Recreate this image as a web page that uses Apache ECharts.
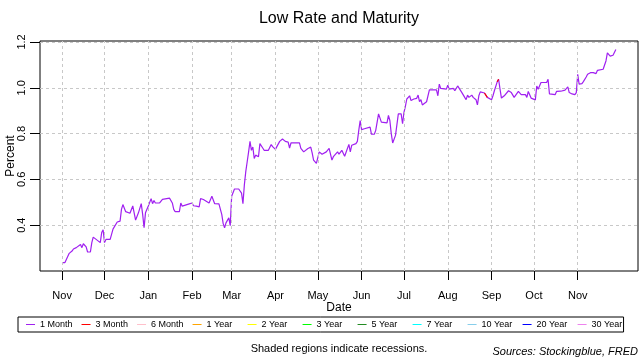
<!DOCTYPE html>
<html><head><meta charset="utf-8">
<script src="https://cdn.jsdelivr.net/npm/echarts@6/dist/echarts.min.js"></script>
<style>html,body{margin:0;padding:0;background:#fff}#c{width:640px;height:360px}</style>
</head><body><div id="c"></div>
<script>
const chartTitle = 'Low Rate and Maturity';
const maturities = ['1 Month','3 Month','6 Month','1 Year','2 Year','3 Year','5 Year','7 Year','10 Year','20 Year','30 Year'];
const maturityColors = ['#A020F0','#FF0000','#FFC0CB','#FFA500','#FFFF00','#00FF00','#228B22','#00FFFF','#87CEEB','#0000FF','#EE82EE'];

const oneMonthDates = [
'2016-11-01','2016-11-03','2016-11-06','2016-11-08','2016-11-09','2016-11-11','2016-11-14','2016-11-15','2016-11-16','2016-11-18','2016-11-19','2016-11-21','2016-11-22','2016-11-23','2016-11-28','2016-11-29','2016-11-30',
'2016-12-01','2016-12-02','2016-12-05','2016-12-07','2016-12-10','2016-12-12','2016-12-13','2016-12-14','2016-12-16','2016-12-19','2016-12-21','2016-12-23','2016-12-25','2016-12-27','2016-12-28','2016-12-29','2016-12-30',
'2017-01-01','2017-01-03','2017-01-04','2017-01-05','2017-01-06','2017-01-09','2017-01-11','2017-01-12','2017-01-16','2017-01-18','2017-01-19','2017-01-20','2017-01-23','2017-01-24','2017-01-25','2017-01-26','2017-01-30',
'2017-02-01','2017-02-02','2017-02-04','2017-02-06','2017-02-07','2017-02-09','2017-02-13','2017-02-15','2017-02-17','2017-02-20','2017-02-21','2017-02-22','2017-02-23','2017-02-24','2017-02-25','2017-02-27','2017-02-28',
'2017-03-01','2017-03-03','2017-03-06','2017-03-08','2017-03-09','2017-03-10','2017-03-11','2017-03-12','2017-03-13','2017-03-14','2017-03-15','2017-03-16','2017-03-17','2017-03-18','2017-03-20','2017-03-21','2017-03-23','2017-03-24','2017-03-27','2017-03-29','2017-03-30',
'2017-04-01','2017-04-02','2017-04-04','2017-04-05','2017-04-06','2017-04-08','2017-04-10','2017-04-11','2017-04-12','2017-04-18','2017-04-19','2017-04-21','2017-04-24','2017-04-25','2017-04-26','2017-04-27','2017-04-28','2017-04-30',
'2017-05-01','2017-05-02','2017-05-04','2017-05-07','2017-05-09','2017-05-11','2017-05-12','2017-05-15','2017-05-16','2017-05-18','2017-05-20','2017-05-21','2017-05-23','2017-05-24','2017-05-25','2017-05-28','2017-05-29','2017-05-30','2017-05-31',
'2017-06-01','2017-06-03','2017-06-07','2017-06-08','2017-06-10','2017-06-11','2017-06-13','2017-06-14','2017-06-15','2017-06-19','2017-06-20','2017-06-21','2017-06-22','2017-06-23','2017-06-25','2017-06-26','2017-06-27','2017-06-29','2017-06-30',
'2017-07-01','2017-07-02','2017-07-03','2017-07-05','2017-07-06','2017-07-08','2017-07-10','2017-07-11','2017-07-12','2017-07-13','2017-07-14','2017-07-17','2017-07-18','2017-07-19','2017-07-24','2017-07-25','2017-07-26','2017-07-27','2017-07-28','2017-07-31',
'2017-08-01','2017-08-02','2017-08-03','2017-08-05','2017-08-06','2017-08-08','2017-08-09','2017-08-11','2017-08-13','2017-08-14','2017-08-15','2017-08-16','2017-08-18','2017-08-19','2017-08-21','2017-08-22','2017-08-23','2017-08-24','2017-08-25','2017-08-27','2017-08-29','2017-08-30',
'2017-09-01','2017-09-02','2017-09-03','2017-09-05','2017-09-06','2017-09-07','2017-09-08','2017-09-10','2017-09-13','2017-09-14','2017-09-15','2017-09-17','2017-09-20','2017-09-22','2017-09-25','2017-09-26','2017-09-27','2017-09-29','2017-09-30',
'2017-10-02','2017-10-03','2017-10-04','2017-10-05','2017-10-06','2017-10-10','2017-10-11','2017-10-12','2017-10-16','2017-10-17','2017-10-20','2017-10-23','2017-10-25','2017-10-26','2017-10-28','2017-10-30','2017-10-31',
'2017-11-01','2017-11-02','2017-11-04','2017-11-05','2017-11-07','2017-11-08','2017-11-10','2017-11-11','2017-11-12','2017-11-14','2017-11-15','2017-11-19','2017-11-20','2017-11-21','2017-11-22','2017-11-23','2017-11-24','2017-11-26','2017-11-27','2017-11-28'
];
const oneMonthValues = [
0.237,0.237,0.277,0.287,0.296,0.302,0.316,0.302,0.319,0.305,0.283,0.283,0.324,0.348,0.324,0.368,0.380,
0.324,0.338,0.338,0.383,0.414,0.418,0.469,0.490,0.459,0.452,0.484,0.422,0.454,0.494,0.447,0.389,0.454,
0.484,0.516,0.494,0.508,0.497,0.497,0.513,0.518,0.518,0.497,0.469,0.459,0.459,0.497,0.483,0.490,0.493,
0.497,0.485,0.483,0.480,0.516,0.512,0.497,0.526,0.494,0.493,0.490,0.447,0.407,0.389,0.410,0.432,0.398,
0.526,0.558,0.558,0.540,0.494,0.576,0.634,0.677,0.720,0.766,0.727,0.741,0.691,0.706,0.699,0.756,0.737,0.727,0.727,0.752,0.743,
0.731,0.743,0.766,0.763,0.776,0.766,0.763,0.737,0.759,0.759,0.735,0.720,0.735,0.727,0.741,0.716,0.684,0.670,
0.670,0.720,0.710,0.720,0.735,0.684,0.699,0.720,0.710,0.727,0.701,0.699,0.753,0.720,0.749,0.756,0.766,0.814,0.857,
0.817,0.821,0.828,0.797,0.797,0.814,0.886,0.893,0.850,0.847,0.879,0.857,0.800,0.759,0.792,0.800,0.886,0.886,0.843,
0.893,0.919,0.951,0.965,0.944,0.951,0.954,0.968,0.939,0.948,0.925,0.939,0.947,0.991,0.991,0.965,1.016,0.997,1.005,0.994,
1.011,0.994,0.991,0.997,0.987,1.008,1.008,0.979,0.958,0.948,0.968,0.958,0.968,0.958,0.948,0.925,0.965,0.982,0.982,0.977,0.958,0.951,
0.948,0.965,0.987,1.026,1.037,0.994,0.955,0.965,0.987,0.987,0.979,0.958,0.984,0.970,0.970,0.958,0.984,0.955,0.947,
0.947,1.008,0.994,1.001,1.023,1.023,1.037,0.973,0.970,0.984,0.985,0.990,1.004,0.979,0.973,0.970,0.979,
1.059,1.016,1.018,1.027,1.047,1.059,1.066,1.059,1.066,1.062,1.076,1.081,1.083,1.117,1.152,1.145,1.138,1.142,1.148,1.167
];
const threeMonthDates = ['2017-08-27','2017-08-29','2017-09-01','2017-09-05','2017-09-06'];
const threeMonthValues = [0.977,0.958,null,1.026,1.037];

const monthTicks = ['2016-11-01','2016-12-01','2017-01-01','2017-02-01','2017-03-01','2017-04-01','2017-05-01','2017-06-01','2017-07-01','2017-08-01','2017-09-01','2017-10-01','2017-11-01'];
const monthTickLabels = ['Nov','Dec','Jan','Feb','Mar','Apr','May','Jun','Jul','Aug','Sep','Oct','Nov'];
const yTicks = [0.4,0.6,0.8,1.0,1.2];
const yTickLabels = ['0.4','0.6','0.8','1.0','1.2'];

function ts(s){const p=s.split('-').map(Number);return Date.UTC(p[0],p[1]-1,p[2]);}
const tickTs = monthTicks.map(ts);
const xs1 = oneMonthDates.map(ts);
const xMinData = Math.min(...xs1), xMaxData = Math.max(...xs1);
const xPad = (xMaxData - xMinData) * 0.04;
const vals = oneMonthValues;
const yMinData = Math.min(...vals), yMaxData = Math.max(...vals);
const yMax = yMaxData + (yMaxData - yMinData) * 0.04;

const font = "'Liberation Sans', Arial, sans-serif";
const series = maturities.map((name, i) => {
  let data = [];
  if (i === 0) data = oneMonthDates.map((d, k) => [ts(d), oneMonthValues[k]]);
  if (i === 1) data = threeMonthDates.map((d, k) => [ts(d), threeMonthValues[k]]);
  return {name, type:'line', data, showSymbol:false, symbol:'none', color: maturityColors[i],
    itemStyle:{color: maturityColors[i]},
    lineStyle:{width:1.2, color: maturityColors[i]}, z: i===1?5:3, animation:false, connectNulls:false};
});

series[0].markLine = {
  silent:true, symbol:'none', animation:false, label:{show:false},
  lineStyle:{color:'#C8C8C8', type:[3,3], width:1},
  data: tickTs.map(t=>({xAxis:t}))
};

const chart = echarts.init(document.getElementById('c'));
chart.setOption({
  animation:false,
  backgroundColor:'#fff',
  textStyle:{fontFamily:font},
  title:[
    {text:chartTitle, left:339, top:11, padding:0, textAlign:'center', textStyle:{fontSize:16, fontWeight:'normal', color:'#000', fontFamily:font}},
    {text:'Shaded regions indicate recessions.', left:339, top:343, padding:0, textAlign:'center', textStyle:{fontSize:11, fontWeight:'normal', color:'#000', fontFamily:font}},
    {text:'Sources: Stockingblue, FRED', right:2, top:346, padding:0, textStyle:{fontSize:11, fontWeight:'normal', fontStyle:'italic', color:'#000', fontFamily:font}}
  ],
  grid:{left:40, right:2, top:41, bottom:89, outerBoundsMode:'none', containLabel:false,
    show:true, borderColor:'#000', borderWidth:1, backgroundColor:'transparent'},
  legend:{
    left:18, top:317, orient:'horizontal', selectedMode:false,
    padding:[2,0,2,8], itemGap:9, itemWidth:9, itemHeight:1, icon:'rect',
    borderColor:'#000', borderWidth:1,
    data: maturities.map((m,i)=>({name:m, itemStyle:{color:maturityColors[i]}})),
    formatter:'{w|{name}}',
    textStyle:{fontSize:9, color:'#000', fontFamily:font,
      rich:{w:{width:32, height:11, lineHeight:11, fontSize:9, color:'#000', fontFamily:font}}}
  },
  xAxis:{
    type:'value', min:xMinData - xPad, max:xMaxData + xPad,
    name:'Date', nameLocation:'middle', nameGap:31, nameMoveOverlap:false,
    nameTextStyle:{fontSize:12, color:'#000', fontFamily:font},
    axisLine:{show:false},
    axisTick:{show:true, customValues:tickTs, length:9, lineStyle:{color:'#000'}},
    axisLabel:{customValues:tickTs, margin:19, fontSize:11, color:'#000', fontFamily:font,
      formatter:(v)=>{const k=tickTs.findIndex(t=>Math.abs(t-v)<1000);return k>=0?monthTickLabels[k]:'';}},
    splitLine:{show:false}
  },
  yAxis:{
    type:'value', min:0.2, max:yMax, interval:0.2,
    name:'Percent', nameLocation:'middle', nameGap:23, nameMoveOverlap:false,
    nameTextStyle:{fontSize:12, color:'#000', fontFamily:font},
    axisLine:{show:false},
    axisTick:{show:true, customValues:yTicks, length:10, lineStyle:{color:'#000'}},
    axisLabel:{customValues:yTicks, rotate:90, margin:13, fontSize:11, color:'#000', fontFamily:font,
      formatter:(v)=>{const k=yTicks.findIndex(t=>Math.abs(t-v)<1e-6);return k>=0?yTickLabels[k]:'';}},
    splitLine:{show:true, lineStyle:{color:'#C8C8C8', type:[3,3], width:1}}
  },
  series
});
</script></body></html>
